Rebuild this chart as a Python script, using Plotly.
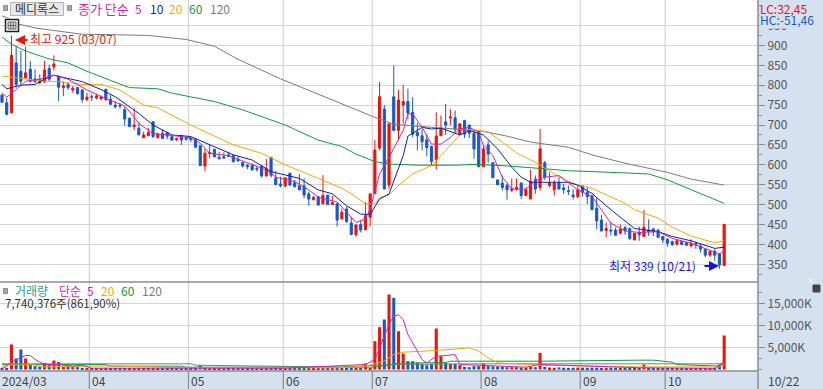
import plotly.graph_objects as go

opens = [775,756,731,856,835,819,840,816,815,808,842,846,823,794,802,788,794,788,764,771,768,766,790,765,750,750,739,717,696,692,668,673,708,668,679,681,671,663,674,667,667,664,648,597,628,639,619,620,625,623,614,606,599,598,591,597,572,619,566,552,547,579,555,547,547,527,512,520,502,524,500,503,464,489,454,424,450,437,468,528,642,740,549,771,686,750,759,732,682,673,663,646,613,673,708,718,718,677,711,700,679,686,595,650,605,562,554,548,536,539,554,523,514,564,543,605,548,537,554,542,535,524,520,547,531,522,491,461,435,436,436,428,442,440,411,430,420,436,439,436,420,413,407,400,407,404,396,403,396,388,373,383,376,347]
highs = [778,768,925,898,886,897,861,840,827,861,852,875,823,810,808,798,796,790,781,777,779,775,790,775,760,755,745,718,742,707,683,693,710,681,689,683,673,668,674,672,668,665,648,641,650,640,633,631,633,625,622,608,602,604,597,597,615,619,584,570,569,579,562,577,566,533,522,522,574,524,522,503,490,495,468,449,460,506,527,662,809,750,703,849,788,801,791,770,705,690,677,648,732,724,753,740,736,703,713,700,686,687,648,661,606,562,573,552,566,566,556,543,588,573,690,610,581,562,569,552,548,538,547,547,545,522,516,474,455,457,443,450,447,442,428,445,487,463,440,438,420,415,409,413,407,407,413,407,401,390,386,388,378,450]
lows = [755,724,729,794,798,815,806,806,802,806,810,837,760,773,788,781,776,756,760,760,764,762,760,750,741,741,698,695,687,675,668,673,667,667,665,664,661,660,650,661,657,643,598,583,616,619,614,616,620,605,607,593,589,587,583,568,570,568,550,543,543,547,543,537,516,497,512,497,502,499,499,445,464,455,425,420,430,435,445,528,636,539,539,686,661,703,715,669,637,636,621,598,588,673,675,700,677,675,667,667,615,593,595,605,566,548,535,512,531,535,514,521,514,527,535,562,543,523,539,527,524,513,516,520,502,487,438,432,417,422,421,425,424,411,411,409,420,421,421,416,403,394,396,400,398,396,394,389,379,368,368,359,339,347]
closes = [757,727,875,802,810,831,810,809,806,838,815,853,795,798,794,792,779,764,770,770,773,771,764,752,746,748,715,696,700,675,675,681,671,677,666,672,662,666,662,664,664,644,598,629,631,620,615,617,621,608,610,597,595,587,589,572,590,574,550,547,567,549,545,537,524,514,518,499,523,500,505,461,481,457,425,449,436,472,527,637,771,539,703,686,763,759,730,677,673,658,643,608,672,690,700,720,688,703,677,679,640,596,640,627,568,550,543,537,539,543,523,537,559,539,640,569,554,554,539,537,533,520,537,531,520,487,459,434,440,434,423,438,434,415,428,424,443,432,432,418,411,403,400,409,400,398,403,399,388,373,382,373,348,450]
ma5_i = [0,1,3,5,8,11,14,18,22,26,28,29,31,32,35,40,42,44,48,52,56,58,62,65,67,71,75,77,78,80,82,85,86,87,89,91,93,95,97,99,101,102,104,106,108,111,113,115,118,122,125,127,129,132,135,139,142,146,149,152,153]
ma5 = [781,770,789,810,815,825,815,788,766,748,720,704,687,679,675,668,654,629,623,604,587,569,558,537,518,507,455,464,489,577,619,686,728,728,694,652,652,669,690,694,682,648,623,569,539,539,560,569,573,537,520,487,453,434,430,432,415,403,390,376,384]
ma10_i = [0,1,4,7,9,11,17,21,24,29,32,36,40,44,49,53,57,63,67,70,73,76,78,80,82,85,86,89,91,93,97,99,102,105,108,110,112,120,122,125,129,134,139,142,146,151,153]
ma10 = [802,791,800,802,815,825,809,789,771,729,700,675,671,650,625,612,583,566,537,527,497,476,475,514,527,623,672,694,690,692,675,686,675,640,594,569,556,556,549,528,487,440,432,420,409,390,393]
ma20_i = [0,3,9,12,17,21,25,30,33,40,49,55,60,67,72,74,77,79,80,82,84,87,91,94,97,99,103,106,109,113,116,119,122,125,132,134,139,142,146,151,153]
ma20 = [823,819,810,809,802,802,788,750,743,700,650,629,600,566,541,527,502,502,518,524,548,577,598,636,675,688,683,657,630,606,585,563,549,541,503,487,466,443,421,404,409]
ma60_i = [0,2,5,10,14,18,23,27,33,36,45,51,60,63,67,72,75,79,82,88,96,100,106,115,120,125,137,141,146,151,153]
ma60 = [921,903,886,866,856,835,812,794,791,780,759,738,700,683,662,646,627,608,602,599,599,601,598,590,585,583,577,562,537,513,503]
ma120_i = [0,1,3,7,10,14,17,23,31,39,45,50,59,70,79,83,91,101,107,112,120,125,132,141,146,153]
ma120 = [974,970,955,944,939,932,928,927,925,915,898,865,816,763,719,702,694,686,672,657,644,625,604,581,564,549]

volume = [380,380,5680,2500,4545,2500,1130,760,760,1500,980,2045,1740,760,680,530,530,380,300,320,280,300,380,260,240,280,250,300,260,240,270,300,280,250,230,300,260,250,240,260,250,300,980,300,270,240,260,280,250,300,240,270,250,260,280,300,320,290,330,260,340,280,300,250,290,240,300,260,350,300,330,250,280,260,340,300,260,1360,300,6440,9620,11360,17045,16290,8700,3640,1900,1900,1500,1290,980,1290,9320,3030,1500,1290,1290,980,600,530,760,760,1290,760,700,650,650,530,530,530,450,450,600,530,3790,600,450,400,480,420,380,400,440,420,400,430,410,380,360,420,400,390,380,340,360,350,1130,300,280,300,260,240,280,300,260,280,240,300,280,320,280,260,1130,7740]
vma5_i = [0,1,2,4,5,6,7,9,12,15,17,19,40,60,77,79,80,82,83,84,85,86,88,89,90,92,94,96,97,100,106,111,114,135,151,152,153]
vma5 = [150,760,1740,2800,3180,3180,2270,1130,1130,760,980,300,300,300,1130,2270,4920,10230,12120,12420,11360,7955,4170,2270,1500,3030,3180,3400,1130,980,760,530,1130,400,250,980,1740]
vma20_i = [0,1,7,8,22,24,30,31,39,40,60,71,77,81,83,85,92,99,101,103,105,109,112,114,135,152,153]
vma20 = [500,1060,1060,600,800,800,600,600,400,400,400,380,760,1890,3400,3940,4320,4920,4170,2650,1500,1360,1130,980,600,600,1130]
vma60_i = [0,22,23,38,39,60,71,79,84,94,95,114,135,138,142,143,152,153]
vma60 = [1100,1100,760,760,530,530,380,530,1440,1590,1890,1890,2120,2120,1670,1130,760,1500]
vma120_i = [0,40,41,71,72,78,84,100,130,153]
vma120 = [1290,1290,980,530,530,900,1130,1290,1290,1290]

assert len(opens) == len(highs) == len(lows) == len(closes) == len(volume) == 154, (len(opens), len(highs), len(lows), len(closes), len(volume))

price_ticks = [350,400,450,500,550,600,650,700,750,800,850,900,950]
vol_ticks = [5000,10000,15000]
vol_tick_text = ["5,000K","10,000K","15,000K"]
month_sessions = [18.5,39.5,59.6,78.45,101.5,122.5,140.5]
month_labels = ["04","05","06","07","08","09","10"]
first_label = "2024/03"
last_label = "10/22"
high_note = "최고 925 (03/07)"
low_note = "최저 339 (10/21)"
stock_name = "메디록스"
volume_note = "7,740,376주(861,90%)"

RED = "#ea1407"
BLUE = "#1559c9"
MAGENTA = "#d81fb0"
NAVY = "#0d1ea5"
ORANGE = "#f2a900"
GREEN = "#0f9a3c"
GRAY = "#7b7b7b"
GRID = "#d3d3d3"
BAND = "#d6e1ef"
AXIS = "#8b8b8b"
W, H = 823, 389
PW, PH = 758, 371
SPLIT = 282
x_range = [-2 / 4.72, (PW - 2) / 4.72]
FONT = "Noto Sans CJK KR"
sessions = list(range(len(opens)))

fig = go.Figure()
fig.add_trace(go.Candlestick(x=sessions, open=opens, high=highs, low=lows, close=closes,
    increasing=dict(line=dict(color=RED, width=1), fillcolor=RED),
    decreasing=dict(line=dict(color=BLUE, width=1), fillcolor=BLUE),
    whiskerwidth=0, xaxis="x", yaxis="y", showlegend=False, hoverinfo="skip"))
for xs, ys, c in [(ma120_i, ma120, GRAY), (ma60_i, ma60, GREEN), (ma20_i, ma20, ORANGE), (ma10_i, ma10, NAVY), (ma5_i, ma5, MAGENTA)]:
    fig.add_trace(go.Scatter(x=xs, y=ys, mode="lines", line=dict(color=c, width=1), xaxis="x", yaxis="y", showlegend=False, hoverinfo="skip"))
bar_colors = [RED if c >= o else BLUE for o, c in zip(opens, closes)]
fig.add_trace(go.Bar(x=sessions, y=volume, marker=dict(color=bar_colors, line=dict(width=0)), xaxis="x2", yaxis="y2", showlegend=False, hoverinfo="skip"))
for xs, ys, c in [(vma120_i, vma120, GRAY), (vma60_i, vma60, GREEN), (vma20_i, vma20, ORANGE), (vma5_i, vma5, MAGENTA)]:
    fig.add_trace(go.Scatter(x=xs, y=ys, mode="lines", line=dict(color=c, width=1), xaxis="x2", yaxis="y2", showlegend=False, hoverinfo="skip"))

def px_x(p):
    return p / PW
def px_y(p):
    return 1 - p / PH

split_dom = (PH - SPLIT) / PH
shapes = []
for s in month_sessions:
    shapes.append(dict(type="line", xref="x", yref="paper", x0=s, x1=s, y0=0, y1=1, line=dict(color=GRID, width=1.2), layer="below"))
    shapes.append(dict(type="line", xref="x", yref="paper", x0=s, x1=s, y0=-18 / PH, y1=0, line=dict(color=AXIS, width=1.2)))
shapes.append(dict(type="line", xref="paper", yref="paper", x0=0, x1=1, y0=split_dom, y1=split_dom, line=dict(color=AXIS, width=1.5)))
shapes.append(dict(type="line", xref="paper", yref="paper", x0=0, x1=1, y0=0, y1=0, line=dict(color=AXIS, width=1.5)))
shapes.append(dict(type="line", xref="paper", yref="paper", x0=1, x1=1, y0=-18 / PH, y1=1, line=dict(color=AXIS, width=1.5)))
def box(x0, y0, x1, y1, fill, line, w=1):
    shapes.append(dict(type="rect", xref="paper", yref="paper", x0=px_x(x0), x1=px_x(x1), y0=px_y(y1), y1=px_y(y0), fillcolor=fill, line=dict(color=line, width=w)))
box(10.5, 2.5, 63.5, 15.5, "#e9e9e9", "#b5b5b5")
box(3.5, 5.5, 7.5, 10.5, "#a8a8a8", "#8a8a8a")
box(67.5, 5.5, 71.5, 10.5, "#a8a8a8", "#8a8a8a")
box(3.5, 288.5, 7.5, 293.5, "#a8a8a8", "#8a8a8a")
box(5.5, 19.5, 18.5, 31.5, "#ffffff", "#222222", 1.5)
box(8, 22, 16, 29, "#d8d8d8", "#666666")
for vx in (10.7, 13.3):
    shapes.append(dict(type="line", xref="paper", yref="paper", x0=px_x(vx), x1=px_x(vx), y0=px_y(29), y1=px_y(22), line=dict(color="#666666", width=1)))
shapes.append(dict(type="line", xref="paper", yref="paper", x0=px_x(8), x1=px_x(16), y0=px_y(25.5), y1=px_y(25.5), line=dict(color="#666666", width=1)))
box(813, 285, 820, 292, "#444444", "#444444")

ann = []
def text(x, y, s, color, size=12, xanchor="left", bg=None):
    d = dict(xref="paper", yref="paper", x=px_x(x), y=px_y(y), text=s, showarrow=False, xanchor=xanchor, yanchor="middle",
             font=dict(family=FONT, size=size, color=color), borderpad=0)
    if bg:
        d["bgcolor"] = bg
    ann.append(d)
text(37, 8.5, stock_name, "#333333", 12, "center")
text(77, 8.5, "종가 단순", MAGENTA, 13)
text(134, 8.5, "5", MAGENTA)
text(149, 8.5, "10", NAVY)
text(168, 8.5, "20", ORANGE)
text(188, 8.5, "60", GREEN)
text(209, 8.5, "120", GRAY)
text(29, 39, high_note, RED)
text(608, 265, low_note, "#1414d8")
text(14, 290, "거래량", "#2a9d8f")
text(58, 290, "단순", MAGENTA)
text(86, 290, "5", MAGENTA)
text(100, 290, "20", ORANGE)
text(120, 290, "60", GREEN)
text(141, 290, "120", GRAY)
text(4, 303, volume_note, "#333333", 11.5)
text(759, 19, "HC:-51,46", BLUE, bg=BAND)
text(759, 8, "LC:32,45", RED)
text(1, 380, first_label, "#444444")
for s, m in zip(month_sessions, month_labels):
    ann.append(dict(xref="x", yref="paper", x=s, y=px_y(380), text=m, showarrow=False, xanchor="left", yanchor="middle", xshift=1,
                    font=dict(family=FONT, size=12, color="#444444")))
text(767, 380, last_label, "#444444")
ann.append(dict(xref="paper", yref="paper", x=px_x(15), y=px_y(40), ax=14, ay=0, axref="pixel", ayref="pixel", text="", showarrow=True,
                arrowhead=2, arrowsize=1, arrowwidth=2, arrowcolor=RED))
ann.append(dict(xref="paper", yref="paper", x=px_x(719), y=px_y(266), ax=-16, ay=0, axref="pixel", ayref="pixel", text="", showarrow=True,
                arrowhead=2, arrowsize=1, arrowwidth=2, arrowcolor="#1414d8"))
ann.append(dict(xref="paper", yref="paper", x=px_x(816.5), y=px_y(288.5), text="×", showarrow=False, font=dict(family=FONT, size=9, color="#ffffff")))

axis_font = dict(family=FONT, size=12, color="#555555")
fig.update_layout(
    width=W, height=H, margin=dict(l=0, r=W - PW, t=0, b=H - PH, pad=0, autoexpand=False),
    paper_bgcolor=BAND, plot_bgcolor="#ffffff", showlegend=False, boxgap=0.35, bargap=0.35,
    shapes=shapes, annotations=ann, hovermode=False,
    xaxis=dict(domain=[0, 1], range=x_range, showgrid=False, showticklabels=False, zeroline=False, ticks="", rangeslider=dict(visible=False), anchor="y"),
    xaxis2=dict(domain=[0, 1], range=x_range, showgrid=False, showticklabels=False, zeroline=False, ticks="", anchor="y2"),
    yaxis=dict(domain=[split_dom, 1], range=[350 - (SPLIT - 264.3) / 0.398, 350 + 264.3 / 0.398], side="right",
               tickmode="array", tickvals=price_ticks, ticktext=[str(v) for v in price_ticks],
               gridcolor=GRID, gridwidth=1, zeroline=False, ticks="outside", ticklen=6, tickcolor=AXIS, tickfont=axis_font,
               minor=dict(tickmode="linear", dtick=25, tick0=0, ticks="outside", ticklen=3, tickcolor=AXIS, showgrid=False), anchor="x"),
    yaxis2=dict(domain=[0, split_dom], range=[-340, 19886], side="right",
                tickmode="array", tickvals=vol_ticks, ticktext=vol_tick_text,
                gridcolor=GRID, gridwidth=1, zeroline=False, ticks="outside", ticklen=6, tickcolor=AXIS, tickfont=axis_font,
                minor=dict(tickmode="linear", dtick=2500, tick0=0, ticks="outside", ticklen=3, tickcolor=AXIS, showgrid=False), anchor="x2"),
)
fig.write_html("out.html", config={"displayModeBar": False, "responsive": False}, post_script="document.body.style.margin='0';")
